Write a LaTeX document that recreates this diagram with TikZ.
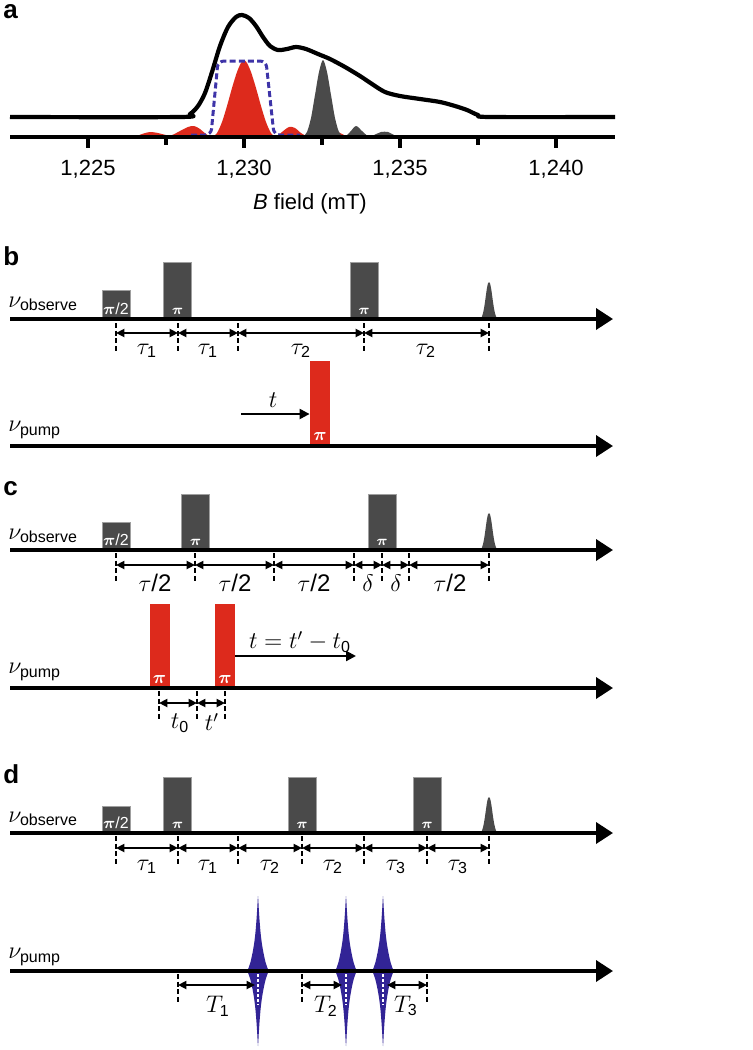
\documentclass[tikz,border=0pt]{standalone}
\usepackage{amsmath}
\usepackage{fontspec}
\setmainfont{Liberation Sans}
\usetikzlibrary{arrows.meta}

\definecolor{pulsegray}{RGB}{74,74,74}
\definecolor{pumpred}{RGB}{221,42,28}
\definecolor{pumpblue}{RGB}{50,36,150}
\definecolor{bandblue}{RGB}{62,52,168}

\tikzset{
  timeaxis/.style={line width=1.8pt, -{Triangle[length=8.5pt,width=10.5pt]}},
  obspulse/.style={fill=pulsegray, draw=gray!75, line width=0.3pt, minimum width=14pt, inner sep=0pt, anchor=south},
  redpulse/.style={fill=pumpred, minimum width=10pt, minimum height=42.5pt, inner sep=0pt, anchor=south},
  marker/.style={line width=1pt, dash pattern=on 2.5pt off 1.3pt},
  interval/.style={line width=1.1pt, {Triangle[length=4.2pt,width=4pt]}-{Triangle[length=4.2pt,width=4pt]}},
  shiftarrow/.style={line width=1.1pt, -{Triangle[length=5pt,width=5pt]}},
  lbl/.style={font=\fontsize{12}{14}\selectfont, inner sep=0pt},
  plbl/.style={text=white, font=\fontsize{7}{8}\selectfont\boldmath, inner sep=0pt},
  panel/.style={font=\fontsize{13}{15}\selectfont\bfseries, inner sep=0pt, anchor=base west},
}

\begin{document}
\begin{tikzpicture}[x=0.5pt, y=-0.5pt]
  \useasboundingbox (0,0) rectangle (753,1050);

  % a: field-swept spectrum with excitation profiles
  \node[panel] (lab-a) at (3,18) {a};
  \fill[pumpred] plot[smooth, tension=0.5] coordinates {(135,137) (142,134) (150,132) (158,133) (166,135) (172,135) (180,131) (188,127) (194,126) (200,129) (206,134) (212,137) (217,133) (222,122) (227,106) (232,88) (237,72) (241,63) (244,60) (247,63) (251,72) (256,88) (261,106) (266,122) (271,133) (276,137) (282,132) (289,127) (295,128) (301,133) (307,136) (313,135) (320,134) (330,131) (338,132) (344,135) (350,137)} -- cycle;
  \fill[pulsegray] plot[smooth, tension=0.5] coordinates {(303,137) (307,132) (311,118) (315,95) (319,72) (323,60) (327,72) (331,95) (335,118) (339,132) (344,137) (350,132) (356,126) (362,131) (368,136) (374,135) (381,132) (388,132) (394,135) (400,137)} -- cycle;
  \draw[bandblue, line width=1.5pt, dash pattern=on 3pt off 1.6pt, rounded corners=3pt] (191,135) -- (211,135) -- (218,61) -- (266,61) -- (274,135) -- (300,135);
  \draw[line width=2.1pt, line join=round] plot[smooth, tension=0.5] coordinates {(10,117) (180,117) (190,114) (198,106) (205,93) (212,72) (220,46) (228,27) (236,17) (242,15) (249,18) (256,26) (263,37) (270,46) (278,50) (287,49) (296,47) (306,49) (318,54) (330,59) (345,67) (360,76) (372,84) (385,92) (400,96) (420,99) (440,102) (455,106) (467,110) (478,115) (490,117) (615,117)};
  \draw[line width=2.2pt] (10,137) -- (615,137);
  \foreach \x in {88,244,400,556} \draw[line width=1.6pt] (\x,137) -- (\x,148);
  \foreach \x in {166,322,478} \draw[line width=1.6pt] (\x,137) -- (\x,145);
  \foreach \v [count=\i] in {225,230,235,240}
    \node[lbl, font=\fontsize{11}{13}\selectfont, anchor=base] (tick\i) at ({88+31.2*(\v-225)},175) {1,\v};
  \node[lbl, font=\fontsize{11}{13}\selectfont, anchor=base] (field) at (310,209) {\textit{B} field (mT)};

  % b: one pump pulse
  \node[panel] (lab-b) at (3,265) {b};
  \begin{scope}[shift={(0,319)}]
    \node[lbl, anchor=west] (b-obs) at (8,-15) {$\nu_{\text{observe}}$};
    \foreach \x/\h/\t [count=\i] in {116/14pt/{\fontsize{8}{9}\selectfont$\pi$/2}, 177.5/28pt/{$\pi$}, 364/28pt/{$\pi$}} {
      \node[obspulse, minimum height=\h] (b-p\i) at (\x,0) {};
      \node[plbl, above=2pt] (b-pl\i) at (b-p\i.south) {\t};
    }
    \fill[pulsegray] (480,0) .. controls (485,-1) and (486,-37) .. (489,-37) .. controls (492,-37) and (493,-1) .. (498,0) -- cycle;
    \draw[timeaxis] (10,0) -- (613,0);
    \foreach \x [count=\i] in {116,178,238,364,489} {
      \draw[marker] (\x,4) -- (\x,33);
      \coordinate (b-m\i) at (\x,14);
    }
    \foreach \i/\j in {1/2,2/3,3/4,4/5} \draw[interval] (b-m\i) -- (b-m\j);
    \foreach \x/\t [count=\i] in {147/{$\tau_{\text{1}}$}, 208/{$\tau_{\text{1}}$}, 301/{$\tau_{\text{2}}$}, 426/{$\tau_{\text{2}}$}}
      \node[lbl] (b-l\i) at (\x,32) {\t};
  \end{scope}
  \begin{scope}[shift={(0,446)}]
    \node[lbl, anchor=west] (b-pump) at (8,-16) {$\nu_{\text{pump}}$};
    \node[redpulse] (b-r1) at (320,0) {};
    \node[plbl, font=\fontsize{9}{10}\selectfont\boldmath, above=2.5pt] (b-rl1) at (b-r1.south) {$\pi$};
    \coordinate (b-tstart) at (241,-32);
    \draw[shiftarrow] (b-tstart) -- (b-tstart -| b-r1.west);
    \node[lbl] (b-t) at (273,-46) {$t$};
    \draw[timeaxis] (10,0) -- (613,0);
  \end{scope}

  % c: two pump pulses
  \node[panel] (lab-c) at (3,495) {c};
  \begin{scope}[shift={(0,550)}]
    \node[lbl, anchor=west] (c-obs) at (8,-14) {$\nu_{\text{observe}}$};
    \foreach \x/\h/\t [count=\i] in {116/13.5pt/{\fontsize{8}{9}\selectfont$\pi$/2}, 195.5/27.5pt/{$\pi$}, 382/27.5pt/{$\pi$}} {
      \node[obspulse, minimum height=\h] (c-p\i) at (\x,0) {};
      \node[plbl, above=2pt] (c-pl\i) at (c-p\i.south) {\t};
    }
    \fill[pulsegray] (480,0) .. controls (485,-1) and (486,-37) .. (489,-37) .. controls (492,-37) and (493,-1) .. (498,0) -- cycle;
    \draw[timeaxis] (10,0) -- (613,0);
    \foreach \x [count=\i] in {116,195,274,354,382,409,489} {
      \draw[marker] (\x,3) -- (\x,33);
      \coordinate (c-m\i) at (\x,15);
    }
    \foreach \i/\j in {1/2,2/3,3/4,4/5,5/6,6/7} \draw[interval] (c-m\i) -- (c-m\j);
    \foreach \x/\t [count=\i] in {155/{$\tau$/2}, 235/{$\tau$/2}, 314/{$\tau$/2}, 368/{$\delta$}, 396/{$\delta$}, 450/{$\tau$/2}}
      \node[lbl] (c-l\i) at (\x,33) {\t};
  \end{scope}
  \begin{scope}[shift={(0,688)}]
    \node[lbl, anchor=west] (c-pump) at (8,-16) {$\nu_{\text{pump}}$};
    \node[redpulse, minimum height=42pt] (c-r1) at (159.5,0) {};
    \node[redpulse, minimum height=42pt] (c-r2) at (225,0) {};
    \foreach \i in {1,2}
      \node[plbl, font=\fontsize{9}{10}\selectfont\boldmath, above=2pt] (c-rl\i) at (c-r\i.south) {$\pi$};
    \coordinate (c-tend) at (356,-32);
    \draw[shiftarrow] (c-tend -| c-r2.east) -- (c-tend);
    \node[lbl] (c-t) at (300,-46) {$t = t' - t_{\text{0}}$};
    \draw[timeaxis] (10,0) -- (613,0);
    \foreach \x [count=\i] in {159,197,225} {
      \draw[marker] (\x,3) -- (\x,32);
      \coordinate (c-q\i) at (\x,15);
    }
    \draw[interval] (c-q1) -- (c-q2);
    \draw[interval] (c-q2) -- (c-q3);
    \node[lbl] (c-t0) at (180,35) {$t_{\text{0}}$};
    \node[lbl] (c-t1) at (212,34) {$t'$};
  \end{scope}

  % d: three pump pulses
  \node[panel] (lab-d) at (3,783) {d};
  \begin{scope}[shift={(0,833)}]
    \node[lbl, anchor=west] (d-obs) at (8,-14) {$\nu_{\text{observe}}$};
    \foreach \x/\h/\t [count=\i] in {116/13pt/{\fontsize{8}{9}\selectfont$\pi$/2}, 177.5/27.5pt/{$\pi$}, 302/27.5pt/{$\pi$}, 427/27.5pt/{$\pi$}} {
      \node[obspulse, minimum height=\h] (d-p\i) at (\x,0) {};
      \node[plbl, above=2pt] (d-pl\i) at (d-p\i.south) {\t};
    }
    \fill[pulsegray] (480,0) .. controls (485,-1) and (486,-36) .. (489,-36) .. controls (492,-36) and (493,-1) .. (498,0) -- cycle;
    \draw[timeaxis] (10,0) -- (613,0);
    \foreach \x [count=\i] in {116,178,238,302,364,427,489} {
      \draw[marker] (\x,3) -- (\x,33);
      \coordinate (d-m\i) at (\x,15);
    }
    \foreach \i/\j in {1/2,2/3,3/4,4/5,5/6,6/7} \draw[interval] (d-m\i) -- (d-m\j);
    \foreach \x/\t [count=\i] in {147/{$\tau_{\text{1}}$}, 208/{$\tau_{\text{1}}$}, 270/{$\tau_{\text{2}}$}, 333/{$\tau_{\text{2}}$}, 396/{$\tau_{\text{3}}$}, 458/{$\tau_{\text{3}}$}}
      \node[lbl] (d-l\i) at (\x,34) {\t};
  \end{scope}
  \begin{scope}[shift={(0,971)}]
    \node[lbl, anchor=west] (d-pump) at (8,-14) {$\nu_{\text{pump}}$};
    \foreach \x in {258,346,383} {
      \fill[pumpblue, shift={(\x,0)}] plot[smooth cycle, tension=0.35] coordinates {(0,-75) (0.8,-62) (1.6,-50) (2.6,-38) (3.8,-28) (5.5,-18) (7.5,-9) (9.5,-3) (10.5,0) (9.5,3) (7.5,9) (5.5,18) (3.8,28) (2.6,38) (1.6,50) (0.8,62) (0,75) (-0.8,62) (-1.6,50) (-2.6,38) (-3.8,28) (-5.5,18) (-7.5,9) (-9.5,3) (-10.5,0) (-9.5,-3) (-7.5,-9) (-5.5,-18) (-3.8,-28) (-2.6,-38) (-1.6,-50) (-0.8,-62)};
      \draw[white, line width=0.6pt, dash pattern=on 1.5pt off 1pt] (\x,3) -- (\x,34);
    }
    \draw[timeaxis] (10,0) -- (613,0);
    \foreach \x in {178,302,427} \draw[marker] (\x,3) -- (\x,32);
    \foreach \x [count=\i] in {178,255,302,342,387,427} \coordinate (d-q\i) at (\x,14);
    \foreach \i/\j in {1/2,3/4,5/6} \draw[interval] (d-q\i) -- (d-q\j);
    \node[lbl] (d-T1) at (218,35) {$T_{\text{1}}$};
    \node[lbl] (d-T2) at (326,35) {$T_{\text{2}}$};
    \node[lbl] (d-T3) at (406,35) {$T_{\text{3}}$};
  \end{scope}
\end{tikzpicture}
\end{document}
